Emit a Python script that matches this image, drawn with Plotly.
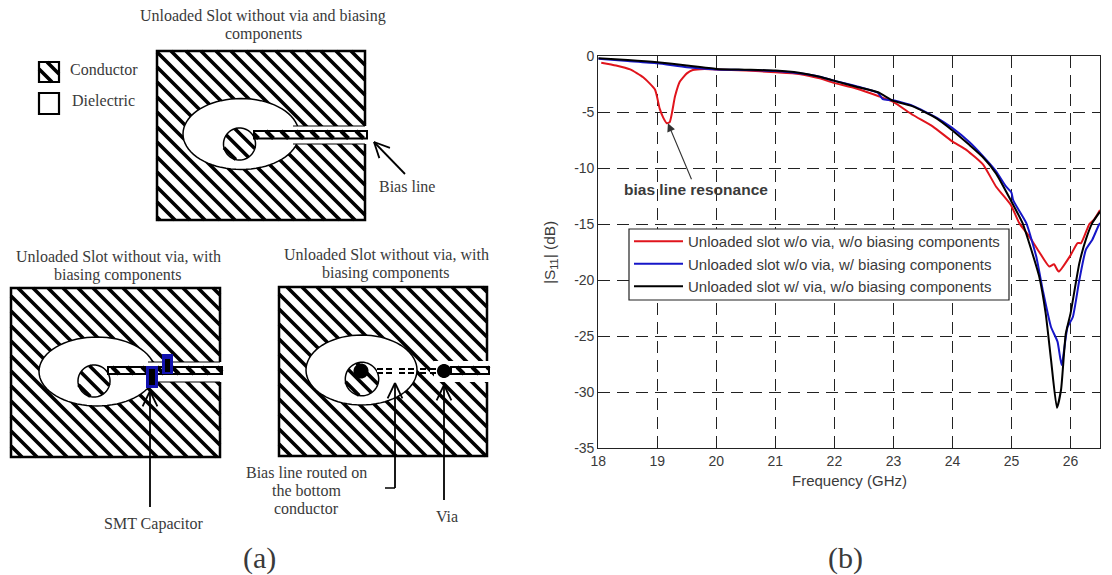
import math
import plotly.graph_objects as go

# ---------- chart data ----------
red_f = [18.05,18.3,18.54,18.76,18.96,19.04,19.1,19.16,19.21,19.3,19.38,19.5,19.6,19.8,20.0,20.5,21.0,21.4,21.75,21.99,22.37,22.74,22.99,23.33,23.67,23.99,24.24,24.52,24.74,24.99,25.13,25.3,25.47,25.64,25.72,25.8,26.0,26.12,26.18,26.32,26.4,26.5]
red_v = [-0.6,-0.85,-1.2,-1.9,-3.0,-4.7,-5.5,-6.0,-5.9,-3.6,-2.3,-1.55,-1.25,-1.15,-1.2,-1.3,-1.45,-1.6,-2.0,-2.4,-2.9,-3.57,-4.08,-5.27,-6.3,-7.6,-8.4,-9.7,-11.67,-13.3,-14.9,-16.1,-17.5,-18.8,-18.6,-19.25,-17.8,-16.7,-16.7,-15.0,-14.6,-13.75]
blue_f = [18.0,18.5,19.0,19.5,20.0,20.5,21.0,21.4,21.75,21.99,22.37,22.74,22.82,22.99,23.33,23.73,23.99,24.29,24.51,24.74,24.9,25.0,25.03,25.25,25.42,25.53,25.67,25.78,25.85,25.95,26.04,26.15,26.26,26.37,26.47,26.5]
blue_v = [-0.25,-0.45,-0.65,-1.0,-1.2,-1.25,-1.35,-1.55,-1.85,-2.2,-2.7,-3.3,-3.85,-3.95,-4.45,-5.5,-6.4,-7.7,-8.9,-10.3,-11.6,-12.2,-12.9,-14.9,-17.9,-20.9,-24.2,-25.5,-27.6,-24.2,-23.3,-20.0,-17.3,-16.4,-15.2,-14.9]
black_f = [18.0,18.5,19.0,19.5,20.0,20.5,21.0,21.4,21.75,21.99,22.37,22.74,22.99,23.33,23.73,23.99,24.29,24.51,24.74,24.99,25.19,25.3,25.47,25.58,25.67,25.77,25.84,25.92,26.0,26.15,26.26,26.37,26.5]
black_v = [-0.2,-0.35,-0.55,-0.85,-1.15,-1.22,-1.3,-1.5,-1.85,-2.2,-2.74,-3.24,-3.99,-4.5,-5.57,-6.6,-7.95,-9.0,-10.5,-12.9,-14.95,-16.7,-19.7,-23.0,-27.1,-31.4,-29.8,-24.8,-23.0,-18.5,-16.4,-14.9,-13.9]
legend_labels = ["Unloaded slot w/o via, w/o biasing components",
                 "Unloaded slot w/o via, w/ biasing components",
                 "Unloaded slot w/ via, w/o biasing components"]
x_ticks = [18,19,20,21,22,23,24,25,26]
y_ticks = [0,-5,-10,-15,-20,-25,-30,-35]

W, H = 1112, 575
SANS = "Liberation Sans"
SERIF = "Liberation Serif"
TXT = "#3a3a3a"

# ---------- diagram helpers (pixel space of the overlay axes) ----------
shapes = []
def add_path(d, fill=None, line="black", lw=1.0):
    shapes.append(dict(type="path", path=d, xref="x2", yref="y2",
                       fillcolor=fill if fill else "rgba(0,0,0,0)",
                       line=dict(color=line if line else "rgba(0,0,0,0)", width=lw if line else 0)))

def rect(x0, y0, x1, y1, fill=None, line="black", lw=1.0):
    add_path(f"M{x0},{y0}L{x1},{y0}L{x1},{y1}L{x0},{y1}Z", fill, line, lw)

def seg(x0, y0, x1, y1, lw=1.5, color="black"):
    add_path(f"M{x0},{y0}L{x1},{y1}", None, color, lw)

def hatch_rect(x0, y0, x1, y1, sp=15.0, lw=3.6):
    c = (y0 - x1) - ((y0 - x1) % sp)
    d = ""
    while c < y1 - x0 + sp:
        ax = max(x0, y0 - c); bx = min(x1, y1 - c)
        if bx > ax:
            d += f"M{ax:.2f},{ax + c:.2f}L{bx:.2f},{bx + c:.2f}"
        c += sp
    add_path(d, None, "black", lw)

def ellipse_path(cx, cy, a, b, n=72):
    pts = [(cx + a*math.cos(2*math.pi*i/n), cy + b*math.sin(2*math.pi*i/n)) for i in range(n)]
    return "M" + "L".join(f"{x:.2f},{y:.2f}" for x, y in pts) + "Z"

def hatch_circle(cx, cy, r, sp=15.0, lw=3.6):
    d = ""
    k = -int(2*r/sp) - 1
    while k*sp < 2*r:
        off = k*sp/math.sqrt(2) + 3
        if abs(off) < r:
            h = math.sqrt(r*r - off*off)
            mx = cx - off/math.sqrt(2); my = cy + off/math.sqrt(2)
            t = h/math.sqrt(2)
            d += f"M{mx-t:.2f},{my-t:.2f}L{mx+t:.2f},{my+t:.2f}"
        k += 1
    add_path(d, None, "black", lw)

def arrow(x0, y0, x1, y1, lw=1.8, head=17, spread=0.45):
    seg(x0, y0, x1, y1, lw)
    ang = math.atan2(y0-y1, x0-x1)
    for s in (-spread, spread):
        seg(x1, y1, x1 + head*math.cos(ang+s), y1 + head*math.sin(ang+s), lw)

def slot_panel(x0, y0, x1, y1, ell, circ, slot_from, slot_y, line_y, line_from):
    hatch_rect(x0, y0, x1, y1)
    rect(x0, y0, x1, y1, None, "black", 2.5)
    add_path(ellipse_path(*ell), "white", "black", 1.5)
    hatch_circle(*circ)
    add_path(ellipse_path(circ[0], circ[1], circ[2], circ[2]), None, "black", 1.5)
    rect(slot_from, slot_y[0], x1+3, slot_y[1], "white", None)
    seg(slot_from, slot_y[0], x1, slot_y[0], 1.2)
    seg(slot_from, slot_y[1], x1, slot_y[1], 1.2)
    rect(line_from, line_y[0], x1+2, line_y[1], "white", None)
    hatch_rect(line_from, line_y[0], x1+2, line_y[1], sp=15, lw=4)
    rect(line_from, line_y[0], x1+2, line_y[1], None, "black", 2)

# legend swatches of the diagram
hatch_rect(39, 62, 59, 82)
rect(39, 62, 59, 82, None, "black", 2.2)
rect(39, 93, 59, 114, None, "black", 2.2)

# panel 1
slot_panel(157, 51, 365, 220, (241, 134, 58, 35.5), (239.5, 144, 16), 293, (126, 144), (131, 138.5), 254)
arrow(405, 174, 374, 142)

# panel 2
slot_panel(11, 288, 220, 457, (97, 371.5, 58, 34.5), (94, 381, 16), 148, (362, 382), (367, 374), 108)
for bx0, by0, bx1, by1, ix0, iy0, ix1, iy1 in [(162, 354, 173, 374, 165, 359, 170, 372), (146, 366, 158, 388, 149, 369, 155, 385)]:
    rect(bx0, by0, bx1, by1, "#1212b0", None)
    rect(ix0, iy0, ix1, iy1, "black", None)
arrow(150, 507, 150, 391)

# panel 3
hatch_rect(279, 287, 487, 456)
rect(279, 287, 487, 456, None, "black", 2.5)
add_path(ellipse_path(361.5, 370, 55.5, 35), "white", "black", 1.5)
hatch_circle(362, 379, 16.7)
add_path(ellipse_path(362, 379, 16.7, 16.7), None, "black", 1.5)
add_path(ellipse_path(361, 371, 7.5, 7.5), "black", None)
rect(434, 361, 490, 382, "white", None)
rect(451, 367, 489, 374, "white", None)
hatch_rect(451, 367, 489, 374, sp=15, lw=4)
rect(451, 367, 489, 374, None, "black", 2)
add_path(ellipse_path(444, 371, 7, 7), "black", None)
for dx in (377, 386, 399, 408, 420, 430):
    rect(dx, 368, dx + 6, 374, "black", None)
    rect(dx, 370, dx + 6, 372, "white", None)
arrow(395, 488, 395, 383)
seg(385, 488, 395, 488)
arrow(444, 500, 444, 385)

# box behind the chart's legend entries
rect(629, 229, 1009, 300, "white", "#222", 1.2)

# texts of the diagrams
def ann(x, y, t, size=16, font=SERIF, color=TXT, **kw):
    return dict(x=x, y=y, xref="x2", yref="y2", text=t, showarrow=False, xanchor="center",
                yanchor="middle", font=dict(family=font, size=size, color=color), **kw)

annotations = [
    ann(263, 16, "Unloaded Slot without via and biasing"),
    ann(263, 34, "components"),
    ann(103.5, 69, "Conductor"),
    ann(103, 100, "Dielectric"),
    ann(407, 186, "Bias line"),
    ann(118, 256, "Unloaded Slot without via, with"),
    ann(118, 275, "biasing components"),
    ann(386, 254, "Unloaded Slot without via, with"),
    ann(386, 273, "biasing components"),
    ann(306, 472, "Bias line routed on"),
    ann(306, 490, "the bottom"),
    ann(306, 508, "conductor"),
    ann(153, 524, "SMT Capacitor"),
    ann(447, 516, "Via"),
    ann(259, 558, "(a)", size=30),
    ann(845, 558, "(b)", size=30),
]

# chart annotations
annotations += [
    dict(x=19.18, y=-6.0, ax=19.65, ay=-11.9, xref="x", yref="y", axref="x", ayref="y",
         showarrow=True, arrowhead=2, arrowsize=1.5, arrowwidth=1.1, arrowcolor="#333",
         text="<b>bias line resonance</b>", font=dict(family=SANS, size=15.5, color=TXT)),
    ann(849, 480, "Frequency (GHz)", size=15, font=SANS),
    ann(550, 253, "|S<sub>11</sub>| (dB)", size=15.5, font=SANS, textangle=-90),
]

fig = go.Figure()
colors = ["#e0141c", "#1616c8", "#000000"]
series = [(red_f, red_v), (blue_f, blue_v), (black_f, black_v)]
for i, ((fx, fy), name, col) in enumerate(zip(series, legend_labels, colors)):
    fig.add_trace(go.Scatter(x=fx, y=fy, mode="lines", name=name, legendgroup=str(i),
                             line=dict(color=col, width=2, shape="spline", smoothing=0.5), xaxis="x", yaxis="y"))
fig.add_trace(go.Scatter(x=[0], y=[0], mode="markers", marker=dict(size=1, opacity=0), showlegend=False,
                         hoverinfo="skip", xaxis="x2", yaxis="y2"))

axis_font = dict(family=SANS, size=14, color=TXT)
fig.update_layout(
    width=W, height=H, margin=dict(l=0, r=0, t=0, b=0), paper_bgcolor="white", plot_bgcolor="rgba(0,0,0,0)",
    font=dict(family=SANS, color=TXT),
    shapes=shapes, annotations=annotations,
    xaxis=dict(domain=[598.3/W, 1100/W], range=[18, 26.5], tickvals=x_ticks, ticktext=[str(v) for v in x_ticks],
               showgrid=True, gridcolor="#222", griddash="12px,7px", gridwidth=1, zeroline=False,
               showline=True, linecolor="#222", linewidth=1.2, mirror=True, ticks="inside", ticklen=4, tickcolor="#222",
               tickfont=axis_font, anchor="y", automargin=False),
    yaxis=dict(domain=[1-448/H, 1-56/H], range=[-35, 0], tickvals=y_ticks, ticktext=[str(v) for v in y_ticks],
               showgrid=True, gridcolor="#222", griddash="12px,7px", gridwidth=1, zeroline=False,
               showline=True, linecolor="#222", linewidth=1.2, mirror=True, ticks="inside", ticklen=4, tickcolor="#222",
               tickfont=axis_font, anchor="x", automargin=False),
    xaxis2=dict(domain=[0, 1], range=[0, W], visible=False, anchor="y2", fixedrange=True),
    yaxis2=dict(domain=[0, 1], range=[H, 0], visible=False, anchor="x2", fixedrange=True),
    legend=dict(x=629/W, y=1-225/H, xanchor="left", yanchor="top", bgcolor="rgba(0,0,0,0)", borderwidth=0,
                font=dict(family=SANS, size=15, color=TXT), itemwidth=49, tracegroupgap=0),
    showlegend=True,
)
fig.write_html("out.html", config={"displayModeBar": False}, post_script="document.body.style.margin='0';")
